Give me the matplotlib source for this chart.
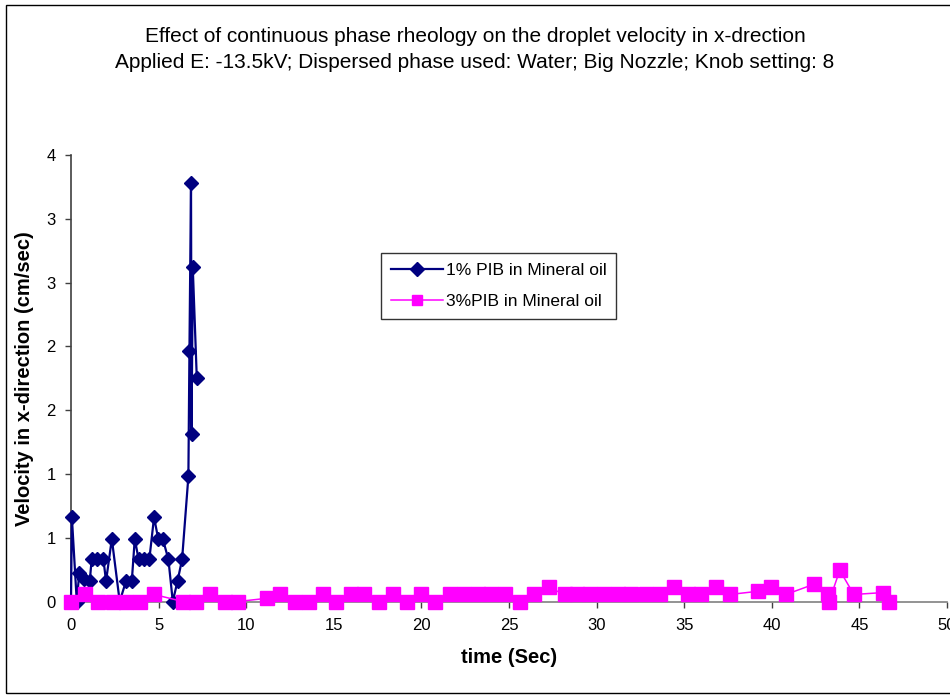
import matplotlib
matplotlib.use("Agg")
import matplotlib.pyplot as plt
from matplotlib.patches import Rectangle

plt.rcParams['font.family'] = ['Liberation Sans', 'DejaVu Sans']

# 1% PIB in mineral oil
time_1pct = [0.0, 0.05, 0.33, 0.47, 0.74, 1.07, 1.18, 1.5, 1.85, 2.0,
             2.33, 2.78, 3.14, 3.47, 3.64, 3.86, 4.15, 4.47, 4.74, 4.98,
             5.24, 5.56, 5.81, 6.08, 6.34, 6.70, 6.76, 6.85, 6.88, 6.95,
             7.18]
vel_1pct = [0.0, 0.66, 0.0, 0.22, 0.18, 0.16, 0.33, 0.33, 0.33, 0.16,
            0.49, 0.0, 0.16, 0.16, 0.49, 0.33, 0.33, 0.33, 0.66, 0.49,
            0.49, 0.33, 0.0, 0.16, 0.33, 0.98, 1.96, 3.28, 1.31, 2.62,
            1.75]

# 3% PIB in mineral oil
time_3pct = [0.0, 0.8, 1.56, 2.38, 3.14, 3.94, 4.74, 6.38, 7.14, 7.94,
             8.8, 9.54, 11.18, 11.94, 12.8, 13.56, 14.38, 15.14, 15.98, 16.74,
             17.6, 18.36, 19.18, 19.98, 20.8, 21.61, 22.42, 23.24, 24.0, 24.8,
             25.65, 26.45, 27.27, 28.17, 28.89, 29.65, 30.4, 31.21, 31.98, 32.8,
             33.6, 34.4, 35.21, 35.98, 36.8, 37.6, 39.21, 39.98, 40.8, 42.4,
             43.21, 43.27, 43.88, 44.68, 46.36, 46.7]
vel_3pct = [0.0, 0.055, 0.0, 0.0, 0.0, 0.0, 0.055, 0.0, 0.0, 0.055,
            0.0, 0.0, 0.025, 0.055, 0.0, 0.0, 0.055, 0.0, 0.055, 0.055,
            0.0, 0.055, 0.0, 0.055, 0.0, 0.055, 0.055, 0.055, 0.055, 0.055,
            0.0, 0.055, 0.11, 0.055, 0.055, 0.055, 0.055, 0.055, 0.055, 0.055,
            0.055, 0.11, 0.055, 0.055, 0.11, 0.055, 0.08, 0.11, 0.055, 0.135,
            0.055, 0.0, 0.245, 0.055, 0.07, 0.0]

x_ticks = [0, 5, 10, 15, 20, 25, 30, 35, 40, 45, 50]
y_ticks = [0, 0.5, 1.0, 1.5, 2.0, 2.5, 3.0, 3.5]
y_tick_labels = ["0", "1", "1", "2", "2", "3", "3", "4"]

series_names = ["1% PIB in Mineral oil", "3%PIB in Mineral oil"]
title_lines = ["Effect of continuous phase rheology on the droplet velocity in x-drection",
               "Applied E: -13.5kV; Dispersed phase used: Water; Big Nozzle; Knob setting: 8"]

W, H = 950, 700
fig = plt.figure(figsize=(W / 100, H / 100), dpi=100)

# outer chart frame
fig.patches.append(Rectangle((6 / W, 1 - 693 / H), 1.0, (693 - 5) / H,
                             transform=fig.transFigure, fill=False,
                             edgecolor='black', linewidth=1.0))

ax = fig.add_axes([71 / W, 1 - 601.5 / H, (947 - 71) / W, (601.5 - 155) / H])
ax.set_facecolor('white')

ax.plot(time_1pct, vel_1pct, color='#000080', linewidth=1.6, marker='D',
        markersize=7.5, markerfacecolor='#000080', markeredgecolor='#000080',
        label=series_names[0], clip_on=False, zorder=3)
ax.plot(time_3pct, vel_3pct, color='#FF00FF', linewidth=1.1, marker='s',
        markersize=9.5, markerfacecolor='#FF00FF', markeredgecolor='#FF00FF',
        label=series_names[1], clip_on=False, zorder=4)

ax.set_xlim(0, 50)
ax.set_ylim(0, 3.5)
ax.set_xticks(x_ticks)
ax.set_xticklabels([str(t) for t in x_ticks])
ax.set_yticks(y_ticks)
ax.set_yticklabels(y_tick_labels)

for side in ('top', 'right'):
    ax.spines[side].set_visible(False)
ax.spines['bottom'].set_color('#808080')
ax.spines['bottom'].set_linewidth(1.2)
ax.spines['left'].set_color('#404040')
ax.spines['left'].set_linewidth(1.2)

ax.tick_params(axis='both', direction='out', length=4, width=1,
               color='#404040', labelsize=12, labelcolor='black')
ax.tick_params(axis='x', pad=8)
ax.tick_params(axis='y', pad=7)

ax.set_xlabel("time (Sec)", fontsize=14.5, fontweight='bold', labelpad=11)
ax.set_ylabel("Velocity in x-direction (cm/sec)", fontsize=14.5,
              fontweight='bold')
ax.yaxis.set_label_coords(-0.042, 0.5)

fig.text(0.5, 1 - 37 / H, title_lines[0], ha='center', va='center',
         fontsize=15, color='black')
fig.text(0.5, 1 - 62 / H, title_lines[1], ha='center', va='center',
         fontsize=15, color='black')

leg = ax.legend(loc='upper left', bbox_to_anchor=((381 - 71) / 876, (601.5 - 253) / 446.5),
                frameon=True, fancybox=False, fontsize=12.5, handlelength=3.0,
                borderpad=0.55, labelspacing=0.95, handletextpad=0.2,
                borderaxespad=0)
leg.get_frame().set_edgecolor('black')
leg.get_frame().set_linewidth(1.0)
for h in leg.legend_handles:
    h.set_markersize(7)

fig.savefig("out.png", dpi=100, facecolor='white')
